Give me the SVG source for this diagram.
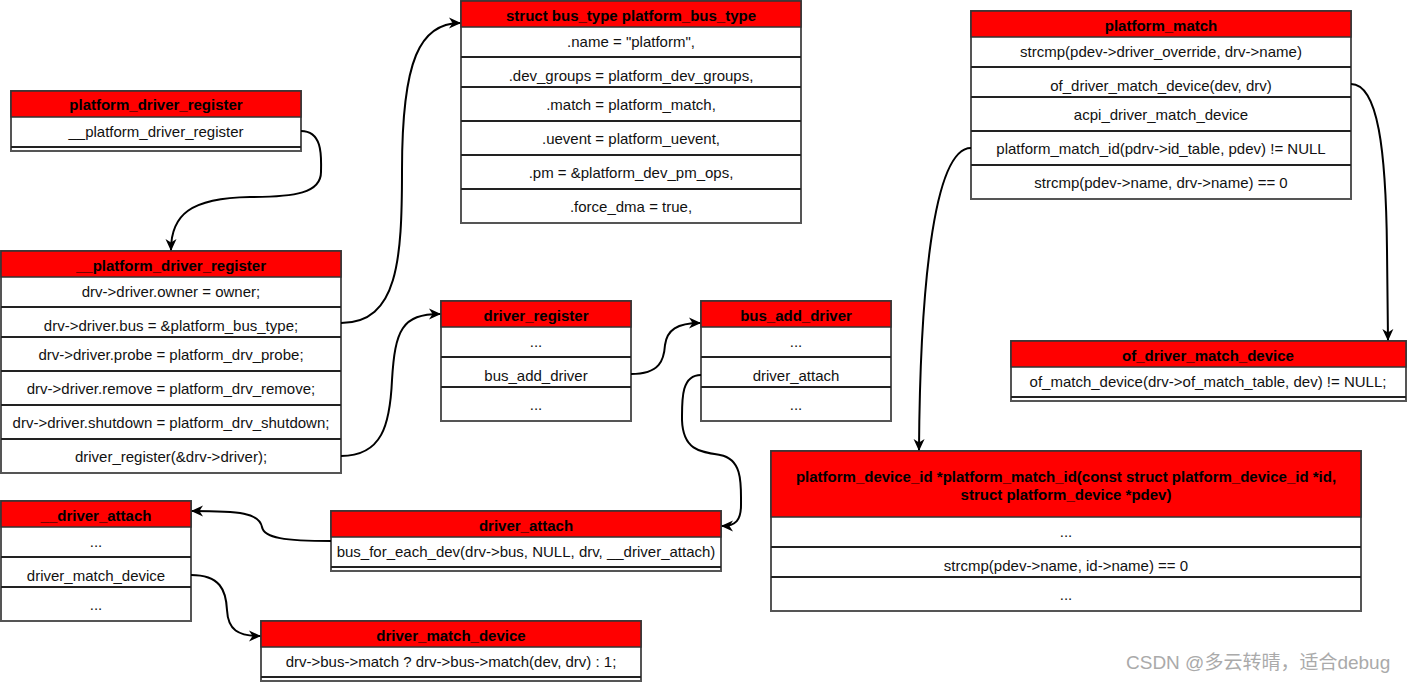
<svg xmlns="http://www.w3.org/2000/svg" width="1407" height="682" viewBox="0 0 1407 682">
<style>
.box{fill:#fff;stroke:#555;stroke-width:2}
.hd{fill:#ff0000;stroke:#333;stroke-width:1.5}
.sep{stroke:#222;stroke-width:2;fill:none}
.ht{font-family:"Liberation Sans",Arial,sans-serif;font-size:15px;font-weight:bold;fill:#000;text-anchor:middle}
.rt{font-family:"Liberation Sans",Arial,sans-serif;font-size:15px;fill:#111;text-anchor:middle}
.cn{fill:none;stroke:#000;stroke-width:2}
.wm{font-family:"Liberation Sans","Noto Sans CJK SC",sans-serif;font-size:19px;fill:#aaa}
</style>
<defs>
<marker id="arr" viewBox="0 0 12 12" refX="11" refY="6" markerWidth="12" markerHeight="12" markerUnits="userSpaceOnUse" orient="auto">
<path d="M0,0.5 L12,6 L0,11.5 L3.5,6 z" fill="#000"/>
</marker>
</defs>

<g id="n-platform_driver_register">
<rect class="box" x="11" y="91" width="290" height="60"/>
<rect class="hd" x="11" y="91" width="290" height="26"/>
<line class="sep" x1="11" y1="147" x2="301" y2="147"/>
<text class="ht" x="156" y="110">platform_driver_register</text>
<text class="rt" x="156" y="137">__platform_driver_register</text>
</g>

<g id="n-__platform_driver_register">
<rect class="box" x="1" y="251" width="340" height="222"/>
<rect class="hd" x="1" y="251" width="340" height="26"/>
<path class="sep" d="M1,307H341M1,337H341M1,371H341M1,405H341M1,439H341"/>
<text class="ht" x="171" y="271">__platform_driver_register</text>
<text class="rt" x="171" y="297">drv-&gt;driver.owner = owner;</text>
<text class="rt" x="171" y="331">drv-&gt;driver.bus = &amp;platform_bus_type;</text>
<text class="rt" x="171" y="360">drv-&gt;driver.probe = platform_drv_probe;</text>
<text class="rt" x="171" y="394">drv-&gt;driver.remove = platform_drv_remove;</text>
<text class="rt" x="171" y="428">drv-&gt;driver.shutdown = platform_drv_shutdown;</text>
<text class="rt" x="171" y="462">driver_register(&amp;drv-&gt;driver);</text>
</g>

<g id="n-platform_bus_type">
<rect class="box" x="461" y="1" width="340" height="222"/>
<rect class="hd" x="461" y="1" width="340" height="26"/>
<path class="sep" d="M461,57H801M461,87H801M461,121H801M461,155H801M461,189H801"/>
<text class="ht" x="631" y="21">struct bus_type platform_bus_type</text>
<text class="rt" x="631" y="47">.name = "platform",</text>
<text class="rt" x="631" y="81">.dev_groups = platform_dev_groups,</text>
<text class="rt" x="631" y="110">.match = platform_match,</text>
<text class="rt" x="631" y="144">.uevent = platform_uevent,</text>
<text class="rt" x="631" y="178">.pm = &amp;platform_dev_pm_ops,</text>
<text class="rt" x="631" y="212">.force_dma = true,</text>
</g>

<g id="n-platform_match">
<rect class="box" x="971" y="11" width="380" height="188"/>
<rect class="hd" x="971" y="11" width="380" height="26"/>
<path class="sep" d="M971,67H1351M971,97H1351M971,131H1351M971,165H1351"/>
<text class="ht" x="1161" y="31">platform_match</text>
<text class="rt" x="1161" y="57">strcmp(pdev-&gt;driver_override, drv-&gt;name)</text>
<text class="rt" x="1161" y="91">of_driver_match_device(dev, drv)</text>
<text class="rt" x="1161" y="120">acpi_driver_match_device</text>
<text class="rt" x="1161" y="154">platform_match_id(pdrv-&gt;id_table, pdev) != NULL</text>
<text class="rt" x="1161" y="188">strcmp(pdev-&gt;name, drv-&gt;name) == 0</text>
</g>

<g id="n-of_driver_match_device">
<rect class="box" x="1011" y="341" width="395" height="60"/>
<rect class="hd" x="1011" y="341" width="395" height="26"/>
<line class="sep" x1="1011" y1="397" x2="1406" y2="397"/>
<text class="ht" x="1208" y="361">of_driver_match_device</text>
<text class="rt" x="1208" y="387">of_match_device(drv-&gt;of_match_table, dev) != NULL;</text>
</g>

<g id="n-driver_register">
<rect class="box" x="441" y="301" width="190" height="120"/>
<rect class="hd" x="441" y="301" width="190" height="26"/>
<path class="sep" d="M441,357H631M441,387H631"/>
<text class="ht" x="536" y="321">driver_register</text>
<text class="rt" x="536" y="347">...</text>
<text class="rt" x="536" y="381">bus_add_driver</text>
<text class="rt" x="536" y="410">...</text>
</g>

<g id="n-bus_add_driver">
<rect class="box" x="701" y="301" width="190" height="120"/>
<rect class="hd" x="701" y="301" width="190" height="26"/>
<path class="sep" d="M701,357H891M701,387H891"/>
<text class="ht" x="796" y="321">bus_add_driver</text>
<text class="rt" x="796" y="347">...</text>
<text class="rt" x="796" y="381">driver_attach</text>
<text class="rt" x="796" y="410">...</text>
</g>

<g id="n-platform_match_id">
<rect class="box" x="771" y="451" width="590" height="160"/>
<rect class="hd" x="771" y="451" width="590" height="66"/>
<path class="sep" d="M771,547H1361M771,577H1361"/>
<text class="ht" x="1066" y="482">platform_device_id *platform_match_id(const struct platform_device_id *id,</text>
<text class="ht" x="1066" y="500">struct platform_device *pdev)</text>
<text class="rt" x="1066" y="537">...</text>
<text class="rt" x="1066" y="571">strcmp(pdev-&gt;name, id-&gt;name) == 0</text>
<text class="rt" x="1066" y="600">...</text>
</g>

<g id="n-__driver_attach">
<rect class="box" x="1" y="501" width="190" height="120"/>
<rect class="hd" x="1" y="501" width="190" height="26"/>
<path class="sep" d="M1,557H191M1,587H191"/>
<text class="ht" x="96" y="521">__driver_attach</text>
<text class="rt" x="96" y="547">...</text>
<text class="rt" x="96" y="581">driver_match_device</text>
<text class="rt" x="96" y="610">...</text>
</g>

<g id="n-driver_attach">
<rect class="box" x="331" y="511" width="390" height="60"/>
<rect class="hd" x="331" y="511" width="390" height="26"/>
<line class="sep" x1="331" y1="567" x2="721" y2="567"/>
<text class="ht" x="526" y="531">driver_attach</text>
<text class="rt" x="526" y="557">bus_for_each_dev(drv-&gt;bus, NULL, drv, __driver_attach)</text>
</g>

<g id="n-driver_match_device">
<rect class="box" x="261" y="621" width="380" height="60"/>
<rect class="hd" x="261" y="621" width="380" height="26"/>
<line class="sep" x1="261" y1="677" x2="641" y2="677"/>
<text class="ht" x="451" y="641">driver_match_device</text>
<text class="rt" x="451" y="667">drv-&gt;bus-&gt;match ? drv-&gt;bus-&gt;match(dev, drv) : 1;</text>
</g>

<g id="connectors">
<path class="cn" marker-end="url(#arr)" d="M301,131 C324,131 321,160 321,172 C321,193 295,197 250,197 C190,198 171,215 171,250"/>
<path class="cn" marker-end="url(#arr)" d="M341,323 C398,323 402,260 402,170 C402,60 420,23 460,23"/>
<path class="cn" marker-end="url(#arr)" d="M341,456 C382,456 390,425 392,380 C395,330 402,314 440,314"/>
<path class="cn" marker-end="url(#arr)" d="M631,374 C660,374 664,360 665,345 C667,330 677,323 700,323"/>
<path class="cn" marker-end="url(#arr)" d="M701,375 C681,375 682,400 682,420 C683,450 700,452 720,455 C743,459 741,485 741,505 C741,520 736,526 722,526"/>
<path class="cn" marker-end="url(#arr)" d="M331,541 C285,541 264,538 262,527 C259,513 240,511 192,511"/>
<path class="cn" marker-end="url(#arr)" d="M191,575 C220,575 226,590 227,610 C228,630 238,636 260,636"/>
<path class="cn" marker-end="url(#arr)" d="M1351,84 C1378,84 1386,150 1387,250 L1388,340"/>
<path class="cn" marker-end="url(#arr)" d="M971,148 C932,148 920,300 919,450"/>
</g>

<text class="wm" x="1126" y="669">CSDN @多云转晴，适合debug</text>
</svg>
